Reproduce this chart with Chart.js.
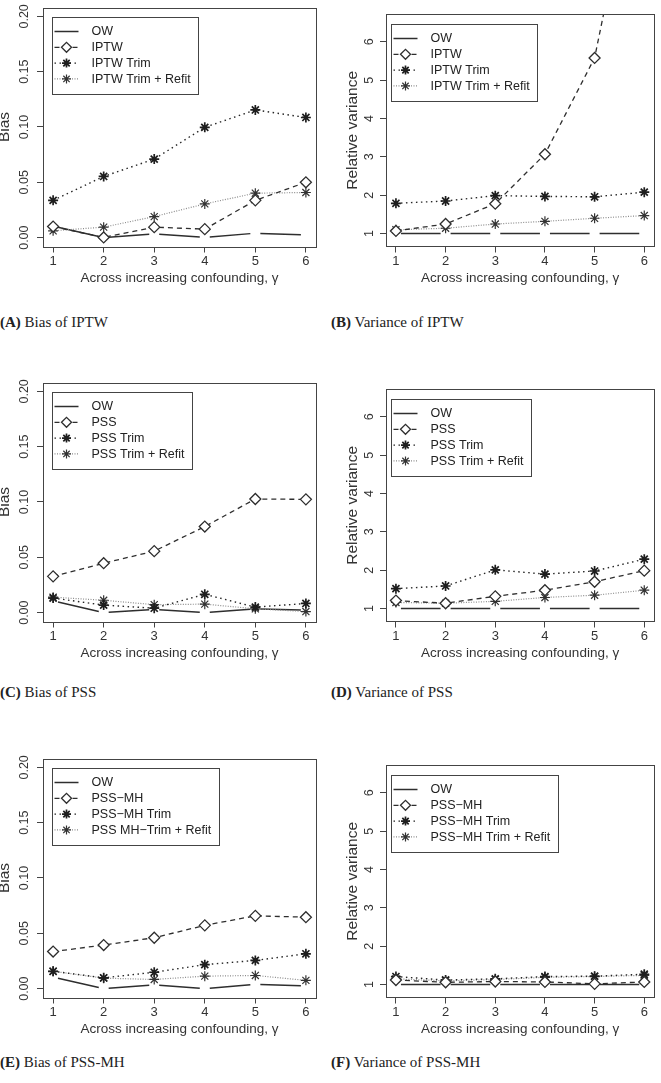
<!DOCTYPE html>
<html><head><meta charset="utf-8">
<script src="https://cdn.jsdelivr.net/npm/chart.js@4.4.1/dist/chart.umd.min.js"></script>
<style>
html,body{margin:0;padding:0;background:#fff;}
body{width:661px;height:1083px;position:relative;overflow:hidden;}
.pan{position:absolute;}
.pan canvas{display:block;}
.cap{position:absolute;font-family:'Liberation Serif','Times New Roman',serif;font-size:15px;color:#222;white-space:nowrap;line-height:18px;}
.cap b{font-weight:bold;}
</style></head><body>
<div class="pan" style="left:0;top:0"><canvas id="cA" width="330" height="300"></canvas></div>
<div class="pan" style="left:330px;top:0"><canvas id="cB" width="331" height="300"></canvas></div>
<div class="pan" style="left:0;top:375px"><canvas id="cC" width="330" height="300"></canvas></div>
<div class="pan" style="left:330px;top:375px"><canvas id="cD" width="331" height="300"></canvas></div>
<div class="pan" style="left:0;top:751px"><canvas id="cE" width="330" height="300"></canvas></div>
<div class="pan" style="left:330px;top:751px"><canvas id="cF" width="331" height="300"></canvas></div>
<div class="cap" style="left:0;top:313px"><b>(A)</b> Bias of IPTW</div>
<div class="cap" style="left:331px;top:313px"><b>(B)</b> Variance of IPTW</div>
<div class="cap" style="left:0;top:683px"><b>(C)</b> Bias of PSS</div>
<div class="cap" style="left:331px;top:683px"><b>(D)</b> Variance of PSS</div>
<div class="cap" style="left:0;top:1053px"><b>(E)</b> Bias of PSS-MH</div>
<div class="cap" style="left:331px;top:1053px"><b>(F)</b> Variance of PSS-MH</div>
<script>
// ---- data ----
const gamma = [1, 2, 3, 4, 5, 6];
const xTickValues = [1, 2, 3, 4, 5, 6];
const biasTickValues = [0, 0.05, 0.10, 0.15, 0.20];
const varTickValues = [1, 2, 3, 4, 5, 6];
const xTitle = 'Across increasing confounding, \u03B3';

// (A) Bias of IPTW
const biasIPTW_OW    = [0.0104, 0.0000, 0.0033, 0.0003, 0.0040, 0.0024];
const biasIPTW       = [0.0100, 0.0002, 0.0095, 0.0077, 0.0337, 0.0500];
const biasIPTW_Trim  = [0.0337, 0.0553, 0.0710, 0.0997, 0.1154, 0.1086];
const biasIPTW_Refit = [0.0062, 0.0095, 0.0190, 0.0305, 0.0402, 0.0408];
// (B) Variance of IPTW
const varIPTW_OW     = [1, 1, 1, 1, 1, 1];
const varIPTW        = [1.07, 1.25, 1.78, 3.07, 5.58, 11.9];
const varIPTW_Trim   = [1.79, 1.85, 1.99, 1.97, 1.96, 2.08];
const varIPTW_Refit  = [1.10, 1.14, 1.25, 1.32, 1.40, 1.47];
// (C) Bias of PSS
const biasPSS_OW     = [0.0106, 0.0000, 0.0030, 0.0000, 0.0033, 0.0024];
const biasPSS        = [0.0328, 0.0447, 0.0556, 0.0778, 0.1027, 0.1024];
const biasPSS_Trim   = [0.0132, 0.0068, 0.0040, 0.0166, 0.0050, 0.0083];
const biasPSS_Refit  = [0.0140, 0.0112, 0.0072, 0.0077, 0.0035, 0.0010];
// (D) Variance of PSS
const varPSS_OW      = [1, 1, 1, 1, 1, 1];
const varPSS         = [1.21, 1.14, 1.32, 1.48, 1.70, 1.99];
const varPSS_Trim    = [1.52, 1.59, 2.01, 1.90, 1.98, 2.29];
const varPSS_Refit   = [1.16, 1.14, 1.19, 1.29, 1.35, 1.48];
// (E) Bias of PSS-MH
const biasMH_OW      = [0.0104, 0.0000, 0.0035, 0.0000, 0.0038, 0.0024];
const biasMH         = [0.0335, 0.0394, 0.0460, 0.0572, 0.0658, 0.0646];
const biasMH_Trim    = [0.0157, 0.0098, 0.0148, 0.0217, 0.0255, 0.0315];
const biasMH_Refit   = [0.0157, 0.0095, 0.0083, 0.0113, 0.0119, 0.0075];
// (F) Variance of PSS-MH
const varMH_OW       = [1, 1, 1, 1, 1, 1];
const varMH          = [1.12, 1.06, 1.08, 1.07, 1.02, 1.07];
const varMH_Trim     = [1.21, 1.12, 1.15, 1.21, 1.22, 1.27];
const varMH_Refit    = [1.15, 1.10, 1.13, 1.19, 1.21, 1.24];

const legendIPTW = ['OW', 'IPTW', 'IPTW Trim', 'IPTW Trim + Refit'];
const legendPSS  = ['OW', 'PSS', 'PSS Trim', 'PSS Trim + Refit'];
const legendMH_bias = ['OW', 'PSS\u2212MH', 'PSS\u2212MH Trim', 'PSS MH\u2212Trim + Refit'];
const legendMH_var  = ['OW', 'PSS\u2212MH', 'PSS\u2212MH Trim', 'PSS\u2212MH Trim + Refit'];

// ---- styling ----
const FONT = "'Liberation Sans', Arial, Helvetica, sans-serif";
Chart.defaults.font.family = FONT;
Chart.defaults.color = '#333';
const INK = '#2e2e2e';
const STY = [
  {color: INK, width: 1.5, dash: [], point: false},
  {color: INK, width: 1.3, dash: [5, 4], pointStyle: 'rectRot', r: 5.5, pw: 1.3, pc: INK, bg: '#fff'},
  {color: '#262626', width: 1.4, dash: [1.5, 3.5], pointStyle: 'star', r: 5, pw: 1.7, pc: '#1e1e1e', bg: '#fff'},
  {color: '#8c8c8c', width: 1.2, dash: [1, 1.5], pointStyle: 'star', r: 5, pw: 1.2, pc: '#333', bg: '#fff'}
];

const rPlot = {
  id: 'rplot',
  beforeDatasetsDraw(chart) {
    const ctx = chart.ctx, ca = chart.chartArea;
    chart.data.datasets.forEach((ds, i) => {
      if (!ds.gapLine) return;
      const pts = chart.getDatasetMeta(i).data;
      ctx.save();
      ctx.beginPath();
      ctx.rect(ca.left, ca.top, ca.right - ca.left, ca.bottom - ca.top);
      ctx.clip();
      ctx.strokeStyle = STY[0].color; ctx.lineWidth = STY[0].width; ctx.setLineDash([]);
      ctx.beginPath();
      const g = 5;
      for (let k = 0; k < pts.length - 1; k++) {
        const a = pts[k], b = pts[k + 1];
        const dx = b.x - a.x, dy = b.y - a.y, L = Math.hypot(dx, dy);
        if (L <= 2 * g) continue;
        const ux = dx / L, uy = dy / L;
        ctx.moveTo(a.x + ux * g, a.y + uy * g);
        ctx.lineTo(b.x - ux * g, b.y - uy * g);
      }
      ctx.stroke();
      ctx.restore();
    });
  },
  afterDraw(chart) {
    const ctx = chart.ctx, ca = chart.chartArea;
    const o = chart.options.plugins.rplot;
    ctx.save();
    ctx.strokeStyle = '#444'; ctx.lineWidth = 1; ctx.setLineDash([]);
    ctx.strokeRect(Math.round(ca.left) + 0.5, Math.round(ca.top) + 0.5,
                   Math.round(ca.right - ca.left), Math.round(ca.bottom - ca.top));
    // legend box
    ctx.font = '12.5px ' + FONT;
    const labels = chart.data.datasets.map(d => d.label);
    const tw = Math.max(...labels.map(t => ctx.measureText(t).width));
    const bx = Math.round(ca.left + o.dx) + 0.5, by = Math.round(ca.top + o.dy) + 0.5;
    const bw = Math.round(39 + tw + 8), bh = 77;
    ctx.fillStyle = '#fff';
    ctx.fillRect(bx, by, bw, bh);
    ctx.strokeStyle = '#444';
    ctx.strokeRect(bx, by, bw, bh);
    labels.forEach((t, i) => {
      const s = STY[i];
      const y = by + 14 + i * 15.8;
      ctx.save();
      ctx.strokeStyle = s.color; ctx.lineWidth = s.width; ctx.setLineDash(s.dash);
      ctx.beginPath(); ctx.moveTo(bx + 2, y); ctx.lineTo(bx + 26, y); ctx.stroke();
      ctx.setLineDash([]);
      if (s.pointStyle) {
        ctx.fillStyle = s.bg; ctx.strokeStyle = s.pc; ctx.lineWidth = s.pw;
        Chart.helpers.drawPoint(ctx, {pointStyle: s.pointStyle, radius: s.r - 0.5, borderWidth: s.pw, rotation: 0}, bx + 14, y);
      }
      ctx.restore();
      ctx.fillStyle = '#222';
      ctx.textBaseline = 'middle';
      ctx.textAlign = 'left';
      ctx.fillText(t, bx + 39, y + 0.5);
    });
    ctx.restore();
  }
};

function fmtBias(v) { return v.toFixed(2); }
function fmtVar(v) { return String(v); }

function panel(id, side, kind, series, labels) {
  const isBias = kind === 'bias';
  const yTicks = isBias ? biasTickValues : varTickValues;
  const datasets = series.map((arr, i) => {
    const s = STY[i];
    const d = {
      label: labels[i],
      data: gamma.map((g, k) => ({x: g, y: arr[k]})),
      borderColor: s.color, borderWidth: s.width, borderDash: s.dash,
      tension: 0, fill: false
    };
    if (i === 0) {
      d.showLine = false; d.pointRadius = 0; d.gapLine = true;
    } else {
      d.pointStyle = s.pointStyle; d.pointRadius = s.r;
      d.pointBorderWidth = s.pw; d.pointBorderColor = s.pc; d.pointBackgroundColor = s.bg;
    }
    return d;
  });
  const left = side === 'L';
  return new Chart(document.getElementById(id), {
    type: 'line',
    data: {datasets},
    plugins: [rPlot],
    options: {
      responsive: false, animation: false, devicePixelRatio: 1, events: [],
      layout: {padding: {top: 3, right: left ? 14 : 6, left: 0, bottom: 0}},
      plugins: {
        legend: {display: false}, tooltip: {enabled: false},
        rplot: {dx: left ? 9 : 4.7, dy: 9.3}
      },
      scales: {
        x: {
          type: 'linear', min: 0.8, max: 6.2,
          afterBuildTicks: s => { s.ticks = xTickValues.map(v => ({value: v})); },
          afterFit: s => { s.height = 53.5; },
          border: {display: false},
          grid: {drawOnChartArea: false, drawTicks: true, tickLength: 6, color: '#444', lineWidth: 1},
          ticks: {padding: 1.5, font: {size: 13}, color: '#333', maxRotation: 0, autoSkip: false,
                  callback: v => String(v)},
          title: {display: true, text: xTitle, font: {size: 13.5}, color: '#333', padding: {top: 0, bottom: 13.9}}
        },
        y: {
          type: 'linear',
          min: isBias ? -0.008 : 0.664, max: isBias ? 0.208 : 6.72,
          afterBuildTicks: s => { s.ticks = yTicks.map(v => ({value: v})); },
          afterFit: s => { s.width = left ? 43 : 56; },
          border: {display: false},
          grid: {drawOnChartArea: false, drawTicks: true, tickLength: 6, color: '#444', lineWidth: 1},
          ticks: {minRotation: 90, maxRotation: 90, crossAlign: 'center', padding: left ? 0 : 6.7,
                  font: {size: 12.5}, color: '#333', autoSkip: false,
                  callback: v => isBias ? fmtBias(v) : fmtVar(v)},
          title: {display: true, text: isBias ? 'Bias' : 'Relative variance', font: {size: 15.5}, color: '#333',
                  padding: {top: left ? -4.3 : 13.4, bottom: 0}}
        }
      }
    }
  });
}

panel('cA', 'L', 'bias', [biasIPTW_OW, biasIPTW, biasIPTW_Trim, biasIPTW_Refit], legendIPTW);
panel('cB', 'R', 'var',  [varIPTW_OW, varIPTW, varIPTW_Trim, varIPTW_Refit], legendIPTW);
panel('cC', 'L', 'bias', [biasPSS_OW, biasPSS, biasPSS_Trim, biasPSS_Refit], legendPSS);
panel('cD', 'R', 'var',  [varPSS_OW, varPSS, varPSS_Trim, varPSS_Refit], legendPSS);
panel('cE', 'L', 'bias', [biasMH_OW, biasMH, biasMH_Trim, biasMH_Refit], legendMH_bias);
panel('cF', 'R', 'var',  [varMH_OW, varMH, varMH_Trim, varMH_Refit], legendMH_var);
</script>
</body></html>
